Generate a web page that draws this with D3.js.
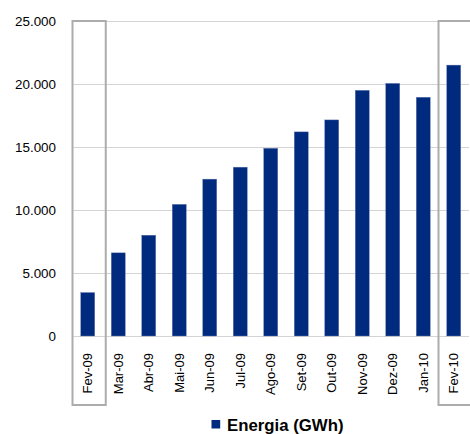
<!DOCTYPE html>
<html>
<head>
<meta charset="utf-8">
<script src="https://cdn.jsdelivr.net/npm/d3@7"></script>
<style>
  html, body { margin: 0; padding: 0; background: #fff; }
  svg { display: block; }
  text { font-family: "Liberation Sans", Arial, sans-serif; fill: #000; }
</style>
</head>
<body>
<svg id="chart" width="470" height="434"></svg>
<script>
// Monthly energy (GWh)
const categories = ["Fev-09", "Mar-09", "Abr-09", "Mai-09", "Jun-09", "Jul-09", "Ago-09",
                    "Set-09", "Out-09", "Nov-09", "Dez-09", "Jan-10", "Fev-10"];
const energia = [3450, 6600, 8000, 10450, 12450, 13400, 14900, 16200, 17150, 19500, 20050, 18950, 21500];
const yTicks = [0, 5000, 10000, 15000, 20000, 25000];
const highlighted = ["Fev-09", "Fev-10"];
const seriesName = "Energia (GWh)";

const svg = d3.select("#chart");
const plotLeft = 72.5, plotRight = 469, plotTop = 21, plotBottom = 336;

const x = d3.scaleBand().domain(categories).range([plotLeft, plotRight])
  .paddingInner(0.54).paddingOuter(0.27);
const y = d3.scaleLinear().domain([0, 25000]).range([plotBottom, plotTop]);

const fmt = d3.formatLocale({ decimal: ",", thousands: ".", grouping: [3], currency: ["", ""] }).format(",d");

// horizontal gridlines with value labels
const yAxis = d3.axisLeft(y).tickValues(yTicks).tickFormat(fmt)
  .tickSize(-(plotRight - plotLeft)).tickPadding(16);
const gy = svg.append("g").attr("transform", `translate(${plotLeft},0)`).call(yAxis);
gy.select(".domain").remove();
gy.selectAll(".tick line").attr("stroke", "#d4d4d4").attr("stroke-width", 1.2);
gy.selectAll(".tick text").attr("font-size", "13.4px").attr("x", -16.5);

// bars
svg.append("g").selectAll("rect").data(categories).join("rect")
  .attr("x", d => x(d))
  .attr("width", x.bandwidth())
  .attr("y", (d, i) => y(energia[i]))
  .attr("height", (d, i) => y(0) - y(energia[i]))
  .attr("fill", "#002a7e")
  .attr("stroke", "#6f80b4")
  .attr("stroke-width", 0.4);

// month labels, rotated
const xAxis = d3.axisBottom(x).tickSize(0).tickPadding(0);
const gx = svg.append("g").attr("transform", `translate(0,${plotBottom})`).call(xAxis);
gx.select(".domain").remove();
gx.selectAll(".tick text")
  .attr("font-size", "13px")
  .attr("text-anchor", "end")
  .attr("dy", null)
  .attr("transform", "translate(4.5,17) rotate(-90)")
  .attr("x", 0).attr("y", 0);

// frames around the compared months
svg.append("g").selectAll("rect").data(highlighted).join("rect")
  .attr("x", d => x(d) + x.bandwidth() / 2 - x.step() * 0.5)
  .attr("y", plotTop)
  .attr("width", x.step() * 1.09)
  .attr("height", 405 - plotTop)
  .attr("fill", "none")
  .attr("stroke", "#acacac")
  .attr("stroke-width", 2);

// legend
const lg = svg.append("g").attr("transform", "translate(211.5,420)");
lg.append("rect").attr("width", 8.7).attr("height", 8.5).attr("fill", "#002a7e");
lg.append("text").attr("x", 15.5).attr("y", 10.8)
  .attr("font-size", "16.8px").attr("font-weight", "bold").text(seriesName);
</script>
</body>
</html>
